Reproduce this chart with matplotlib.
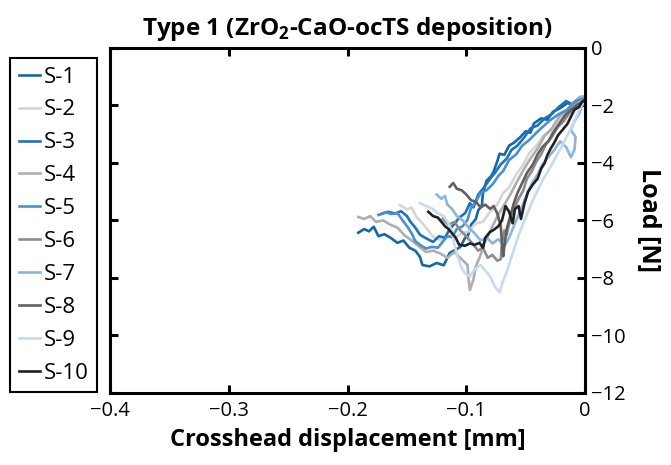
import matplotlib
matplotlib.use("Agg")
import matplotlib.pyplot as plt

plt.rcParams["font.family"] = ["Open Sans", "DejaVu Sans"]
plt.rcParams["mathtext.fontset"] = "custom"
plt.rcParams["mathtext.rm"] = "Open Sans"
plt.rcParams["mathtext.bf"] = "Open Sans:bold"

# Crosshead displacement [mm] and load [N] per sample
s1_x = [-0.191, -0.186, -0.182, -0.178, -0.174, -0.169, -0.164, -0.158, -0.153, -0.148,
        -0.143, -0.139, -0.137, -0.131, -0.125, -0.119, -0.114, -0.109, -0.105, -0.101,
        -0.099, -0.096, -0.092, -0.090, -0.087, -0.086, -0.083, -0.079, -0.077, -0.074,
        -0.072, -0.068, -0.064, -0.060, -0.055, -0.050, -0.046, -0.043, -0.037, -0.032,
        -0.027, -0.021, -0.015, -0.010, -0.006, 0.0]
s1_y = [-6.43, -6.30, -6.38, -6.22, -6.55, -6.48, -6.60, -6.78, -6.70, -6.95,
        -7.05, -7.27, -7.55, -7.60, -7.48, -7.56, -7.13, -7.02, -6.92, -6.60,
        -6.57, -6.15, -5.95, -5.65, -5.50, -5.05, -4.62, -4.45, -4.30, -3.95,
        -3.68, -3.72, -3.40, -3.30, -3.12, -2.90, -2.95, -2.62, -2.45, -2.50,
        -2.22, -2.10, -1.92, -1.98, -1.78, -1.70]

s2_x = [-0.156, -0.150, -0.146, -0.142, -0.138, -0.133, -0.128, -0.122, -0.116, -0.110,
        -0.104, -0.098, -0.092, -0.086, -0.080, -0.074, -0.069, -0.064, -0.058, -0.052,
        -0.047, -0.041, -0.035, -0.029, -0.023, -0.016, -0.010, -0.004, 0.0]
s2_y = [-5.46, -5.62, -5.55, -5.88, -6.05, -6.30, -6.57, -6.68, -6.55, -6.62,
        -6.45, -6.38, -6.10, -6.05, -5.70, -5.45, -5.05, -4.85, -4.40, -4.05,
        -3.65, -3.40, -3.05, -2.90, -2.55, -2.30, -2.05, -1.85, -1.75]

s3_x = [-0.172, -0.166, -0.160, -0.155, -0.150, -0.147, -0.143, -0.139, -0.134, -0.128,
        -0.123, -0.118, -0.114, -0.110, -0.106, -0.101, -0.097, -0.094, -0.090, -0.085,
        -0.080, -0.076, -0.071, -0.066, -0.062, -0.057, -0.051, -0.046, -0.040, -0.034,
        -0.028, -0.022, -0.016, -0.011, -0.006, 0.0]
s3_y = [-5.78, -5.70, -5.76, -5.68, -5.85, -6.05, -6.25, -6.50, -6.62, -6.75,
        -6.55, -6.60, -6.30, -6.12, -5.90, -5.75, -5.40, -5.55, -5.10, -4.85,
        -4.55, -4.35, -4.05, -3.85, -3.55, -3.40, -3.10, -2.80, -2.70, -2.45,
        -2.30, -2.05, -1.85, -1.95, -1.80, -1.72]

s4_x = [-0.191, -0.186, -0.181, -0.176, -0.170, -0.164, -0.158, -0.152, -0.146, -0.140,
        -0.134, -0.128, -0.122, -0.116, -0.110, -0.104, -0.099, -0.098, -0.097, -0.094,
        -0.092, -0.088, -0.085, -0.082, -0.078, -0.073, -0.068, -0.063, -0.058, -0.052,
        -0.046, -0.040, -0.034, -0.028, -0.022, -0.016, -0.010, -0.004, 0.0]
s4_y = [-5.88, -5.95, -5.85, -6.05, -6.00, -6.15, -6.25, -6.52, -6.70, -6.90,
        -7.10, -7.05, -7.15, -7.30, -7.10, -7.35, -7.55, -8.10, -8.42, -8.05,
        -7.60, -7.20, -6.80, -6.55, -6.20, -5.80, -5.45, -5.10, -4.70, -4.25,
        -3.85, -3.50, -3.05, -2.80, -2.40, -2.20, -1.90, -1.70, -1.68]

s5_x = [-0.174, -0.168, -0.163, -0.158, -0.154, -0.150, -0.146, -0.143, -0.139, -0.134,
        -0.129, -0.124, -0.120, -0.116, -0.112, -0.108, -0.103, -0.099, -0.096, -0.092,
        -0.088, -0.083, -0.078, -0.073, -0.069, -0.064, -0.058, -0.053, -0.047, -0.041,
        -0.035, -0.029, -0.022, -0.015, -0.008, 0.0]
s5_y = [-5.81, -5.72, -5.78, -5.74, -5.98, -6.20, -6.45, -6.72, -6.85, -6.98,
        -6.92, -6.95, -6.75, -6.55, -6.58, -6.30, -6.20, -5.98, -5.55, -5.35,
        -5.05, -4.95, -4.75, -4.45, -4.28, -3.90, -3.70, -3.40, -3.20, -2.95,
        -2.72, -2.50, -2.30, -2.15, -1.85, -1.75]

s6_x = [-0.120, -0.115, -0.110, -0.105, -0.100, -0.095, -0.090, -0.086, -0.082, -0.078,
        -0.074, -0.071, -0.070, -0.068, -0.066, -0.063, -0.060, -0.056, -0.052, -0.049,
        -0.045, -0.041, -0.037, -0.033, -0.028, -0.023, -0.018, -0.013, -0.007, 0.0]
s6_y = [-5.95, -6.15, -6.05, -6.35, -6.55, -6.80, -7.05, -6.95, -7.30, -7.20,
        -7.40, -7.35, -6.80, -6.35, -6.50, -5.95, -5.60, -5.25, -4.95, -4.55,
        -4.30, -3.95, -3.70, -3.35, -3.10, -2.75, -2.55, -2.25, -2.05, -1.80]

s7_x = [-0.125, -0.121, -0.118, -0.116, -0.112, -0.108, -0.103, -0.098, -0.093, -0.088,
        -0.083, -0.078, -0.073, -0.068, -0.064, -0.060, -0.056, -0.052, -0.048, -0.044,
        -0.040, -0.036, -0.031, -0.026, -0.021, -0.016, -0.012, -0.009, -0.008, -0.012,
        -0.009, -0.005, -0.003, 0.0]
s7_y = [-5.10, -5.25, -5.15, -5.45, -5.60, -5.85, -6.00, -6.25, -6.45, -6.70,
        -6.60, -6.80, -6.65, -6.90, -6.60, -6.20, -5.80, -5.40, -5.00, -4.65,
        -4.40, -4.05, -3.80, -3.55, -3.25, -3.45, -3.80, -3.55, -3.10, -2.85,
        -2.55, -2.30, -2.05, -1.80]

s8_x = [-0.114, -0.111, -0.108, -0.104, -0.100, -0.096, -0.092, -0.088, -0.084, -0.080,
        -0.077, -0.074, -0.071, -0.070, -0.069, -0.068, -0.066, -0.063, -0.060, -0.057,
        -0.053, -0.049, -0.044, -0.040, -0.036, -0.031, -0.027, -0.022, -0.017, -0.012,
        -0.006, 0.0]
s8_y = [-4.83, -4.70, -4.90, -4.95, -5.10, -5.30, -5.35, -5.55, -5.45, -5.60,
        -5.50, -5.75, -6.20, -6.80, -7.25, -6.90, -6.30, -5.85, -5.40, -5.05,
        -4.70, -4.35, -4.05, -3.70, -3.45, -3.25, -2.95, -2.65, -2.35, -2.15,
        -1.95, -1.85]

s9_x = [-0.139, -0.134, -0.129, -0.124, -0.119, -0.115, -0.112, -0.110, -0.107, -0.104,
        -0.101, -0.097, -0.093, -0.088, -0.084, -0.080, -0.076, -0.072, -0.069, -0.066,
        -0.063, -0.059, -0.055, -0.050, -0.045, -0.040, -0.035, -0.030, -0.024, -0.018,
        -0.012, -0.007, -0.003, 0.0]
s9_y = [-5.40, -5.50, -5.58, -5.75, -5.85, -6.10, -6.40, -6.85, -7.30, -7.65,
        -7.85, -7.95, -7.70, -7.55, -7.75, -7.95, -8.30, -8.50, -8.10, -7.80,
        -7.40, -6.90, -6.40, -5.90, -5.40, -4.95, -4.55, -4.20, -3.75, -3.30,
        -2.80, -2.35, -2.00, -1.80]

s10_x = [-0.132, -0.128, -0.124, -0.121, -0.118, -0.115, -0.112, -0.109, -0.106, -0.101,
         -0.097, -0.093, -0.089, -0.086, -0.084, -0.080, -0.077, -0.073, -0.070, -0.067,
         -0.064, -0.061, -0.059, -0.056, -0.054, -0.051, -0.048, -0.044, -0.040, -0.037,
         -0.034, -0.032, -0.029, -0.026, -0.023, -0.019, -0.015, -0.012, -0.009, -0.005,
         -0.003, 0.0]
s10_y = [-5.70, -5.85, -5.90, -6.05, -6.20, -6.30, -6.45, -6.60, -6.85, -6.88,
         -6.80, -6.85, -6.78, -6.95, -6.60, -6.40, -6.33, -6.20, -6.00, -5.50,
         -5.70, -6.10, -5.60, -5.50, -5.95, -5.40, -5.00, -4.75, -4.55, -4.20,
         -4.00, -3.75, -3.50, -3.30, -3.05, -2.85, -2.65, -2.40, -2.15, -2.05,
         -1.90, -1.80]

labels = ["S-1", "S-2", "S-3", "S-4", "S-5", "S-6", "S-7", "S-8", "S-9", "S-10"]
colors = ["#1368AA", "#D6D6D6", "#1A74B8", "#AEAEAE", "#4A8FD0",
          "#8C8C8C", "#8CB4E0", "#606060", "#C6DAF0", "#222222"]
xs = [s1_x, s2_x, s3_x, s4_x, s5_x, s6_x, s7_x, s8_x, s9_x, s10_x]
ys = [s1_y, s2_y, s3_y, s4_y, s5_y, s6_y, s7_y, s8_y, s9_y, s10_y]

fig = plt.figure(figsize=(6.71, 4.65), dpi=100)
ax = fig.add_axes([0.164, 0.155, 0.708, 0.742])

for x, y, c, lab in zip(xs, ys, colors, labels):
    ax.plot(x, y, color=c, lw=1.9, label=lab)

ax.set_xlim(-0.4, 0)
ax.set_ylim(-12, 0)
ax.set_xticks([-0.4, -0.3, -0.2, -0.1, 0])
ax.set_xticklabels(["\u22120.4", "\u22120.3", "\u22120.2", "\u22120.1", "0"])
ax.set_yticks([0, -2, -4, -6, -8, -10, -12])
ax.set_yticklabels(["0", "\u22122", "\u22124", "\u22126", "\u22128", "\u221210", "\u221212"])

ax.yaxis.tick_right()
ax.yaxis.set_label_position("right")
ax.tick_params(direction="in", length=6, width=2.2, labelsize=14.5,
               top=True, bottom=True, left=True, right=True,
               labelleft=False, labelright=True, pad=4)
ax.tick_params(axis="x", pad=6)
for sp in ax.spines.values():
    sp.set_linewidth(2.2)

ax.set_title(r"Type 1 (ZrO$_\mathbf{2}$-CaO-ocTS deposition)",
             fontsize=17.5, fontweight="bold", pad=9)
ax.set_xlabel("Crosshead displacement [mm]", fontsize=17, fontweight="bold", labelpad=5)
ax.set_ylabel("Load [N]", fontsize=18, fontweight="bold", rotation=270, labelpad=26)

leg = fig.legend(loc="upper left", bbox_to_anchor=(0.015, 0.876), fontsize=16,
                 handlelength=0.95, handletextpad=0.15, labelspacing=0.535,
                 borderpad=0.4, borderaxespad=0, fancybox=False, framealpha=1,
                 edgecolor="black")
leg.get_frame().set_linewidth(1.5)

fig.savefig("out.png", dpi=100)
